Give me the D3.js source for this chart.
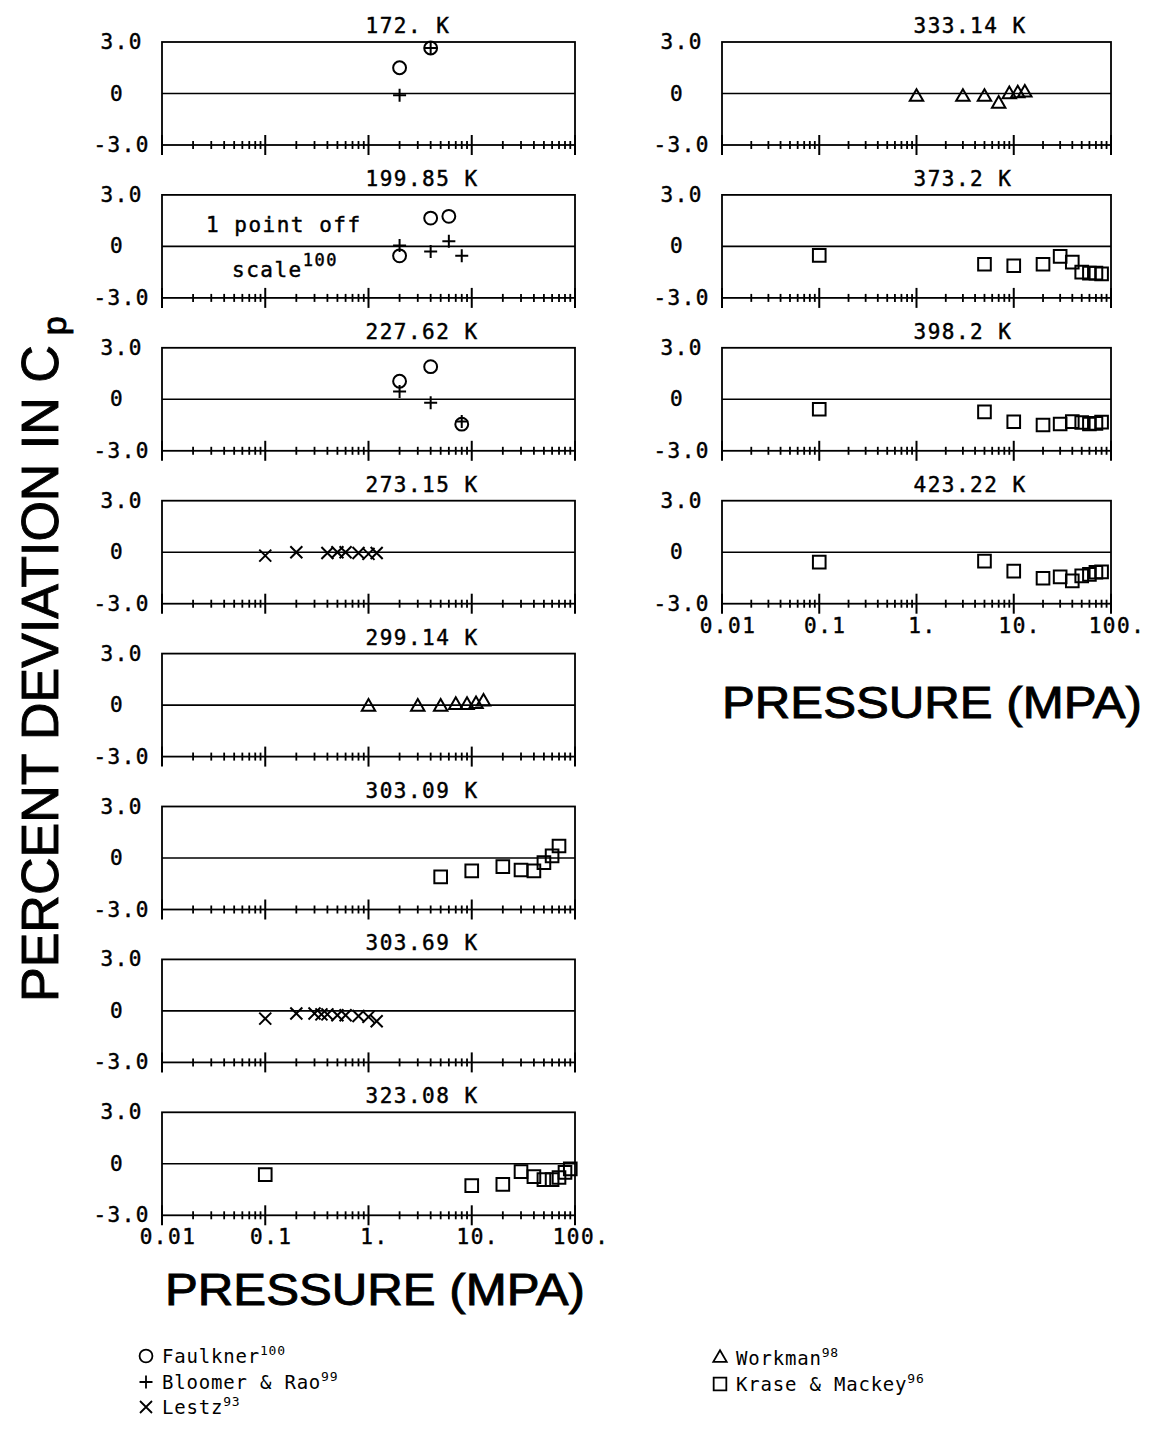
<!DOCTYPE html>
<html><head><meta charset="utf-8">
<script src="https://cdn.jsdelivr.net/npm/d3@7"></script>
<style>body{margin:0;background:#fff}</style>
</head><body><svg id="c" width="1171" height="1431"></svg>
<script>
// ---------- data ----------
const leftTemps = ["172. K","199.85 K","227.62 K","273.15 K","299.14 K","303.09 K","303.69 K","323.08 K"];
const rightTemps = ["333.14 K","373.2 K","398.2 K","423.22 K"];
const yTickValues = [3, 0, -3];
const yTickLabels = ["3.0", "0", "-3.0"];
const xTickValues = [0.01, 0.1, 1, 10, 100];
const xTickLabels = ["0.01", "0.1", "1.", "10.", "100."];

const faulkner = [
  {T:"172. K",p:2,d:1.5},{T:"172. K",p:4,d:2.65},
  {T:"199.85 K",p:2,d:-0.55},{T:"199.85 K",p:4,d:1.65},{T:"199.85 K",p:6,d:1.75},
  {T:"227.62 K",p:2,d:1.05},{T:"227.62 K",p:4,d:1.9},{T:"227.62 K",p:8,d:-1.45}
];
const bloomer = [
  {T:"172. K",p:2,d:-0.1},{T:"172. K",p:4,d:2.65},
  {T:"199.85 K",p:2,d:0.05},{T:"199.85 K",p:4,d:-0.3},{T:"199.85 K",p:6,d:0.3},{T:"199.85 K",p:8,d:-0.55},
  {T:"227.62 K",p:2,d:0.45},{T:"227.62 K",p:4,d:-0.2},{T:"227.62 K",p:8,d:-1.3}
];
const lestz = [
  {T:"273.15 K",p:0.1,d:-0.2},{T:"273.15 K",p:0.2,d:0.0},{T:"273.15 K",p:0.4,d:-0.05},{T:"273.15 K",p:0.5,d:0.0},
  {T:"273.15 K",p:0.6,d:0.0},{T:"273.15 K",p:0.8,d:-0.05},{T:"273.15 K",p:1.0,d:-0.1},{T:"273.15 K",p:1.2,d:-0.05},
  {T:"303.69 K",p:0.1,d:-0.45},{T:"303.69 K",p:0.2,d:-0.15},{T:"303.69 K",p:0.3,d:-0.15},{T:"303.69 K",p:0.35,d:-0.2},
  {T:"303.69 K",p:0.4,d:-0.2},{T:"303.69 K",p:0.5,d:-0.25},{T:"303.69 K",p:0.6,d:-0.25},{T:"303.69 K",p:0.8,d:-0.3},
  {T:"303.69 K",p:1.0,d:-0.35},{T:"303.69 K",p:1.2,d:-0.6}
];
const workman = [
  {T:"299.14 K",p:1,d:-0.1},{T:"299.14 K",p:3,d:-0.1},{T:"299.14 K",p:5,d:-0.1},{T:"299.14 K",p:7,d:0.0},
  {T:"299.14 K",p:9,d:0.0},{T:"299.14 K",p:11,d:0.05},{T:"299.14 K",p:13,d:0.2},
  {T:"333.14 K",p:1,d:-0.2},{T:"333.14 K",p:3,d:-0.2},{T:"333.14 K",p:5,d:-0.2},{T:"333.14 K",p:7,d:-0.6},
  {T:"333.14 K",p:9,d:-0.05},{T:"333.14 K",p:11,d:0.0},{T:"333.14 K",p:13,d:0.05}
];
const krase = [
  {T:"303.09 K",p:5,d:-1.1},{T:"303.09 K",p:10,d:-0.75},{T:"303.09 K",p:20,d:-0.5},{T:"303.09 K",p:30,d:-0.7},
  {T:"303.09 K",p:40,d:-0.75},{T:"303.09 K",p:50,d:-0.27},{T:"303.09 K",p:60,d:0.12},{T:"303.09 K",p:70,d:0.7},
  {T:"323.08 K",p:0.1,d:-0.63},{T:"323.08 K",p:10,d:-1.27},{T:"323.08 K",p:20,d:-1.2},{T:"323.08 K",p:30,d:-0.46},
  {T:"323.08 K",p:40,d:-0.75},{T:"323.08 K",p:50,d:-0.92},{T:"323.08 K",p:60,d:-0.92},{T:"323.08 K",p:70,d:-0.8},
  {T:"323.08 K",p:80,d:-0.5},{T:"323.08 K",p:90,d:-0.3},
  {T:"373.2 K",p:0.1,d:-0.52},{T:"373.2 K",p:5,d:-1.04},{T:"373.2 K",p:10,d:-1.13},{T:"373.2 K",p:20,d:-1.04},
  {T:"373.2 K",p:30,d:-0.58},{T:"373.2 K",p:40,d:-0.92},{T:"373.2 K",p:50,d:-1.5},{T:"373.2 K",p:60,d:-1.56},
  {T:"373.2 K",p:70,d:-1.56},{T:"373.2 K",p:80,d:-1.6},
  {T:"398.2 K",p:0.1,d:-0.58},{T:"398.2 K",p:5,d:-0.73},{T:"398.2 K",p:10,d:-1.31},{T:"398.2 K",p:20,d:-1.5},
  {T:"398.2 K",p:30,d:-1.44},{T:"398.2 K",p:40,d:-1.3},{T:"398.2 K",p:50,d:-1.35},{T:"398.2 K",p:60,d:-1.44},
  {T:"398.2 K",p:70,d:-1.4},{T:"398.2 K",p:80,d:-1.33},
  {T:"423.22 K",p:0.1,d:-0.58},{T:"423.22 K",p:5,d:-0.52},{T:"423.22 K",p:10,d:-1.1},{T:"423.22 K",p:20,d:-1.52},
  {T:"423.22 K",p:30,d:-1.44},{T:"423.22 K",p:40,d:-1.67},{T:"423.22 K",p:50,d:-1.38},{T:"423.22 K",p:60,d:-1.29},
  {T:"423.22 K",p:70,d:-1.17},{T:"423.22 K",p:80,d:-1.15}
];

const seriesNames = ["Faulkner","Bloomer & Rao","Lestz","Workman","Krase & Mackey"];
const seriesRefs = ["100","99","93","98","96"];
const seriesShapes = ["circle","plus","x","triangle","square"];
const seriesData = [faulkner, bloomer, lestz, workman, krase];

// ---------- drawing ----------
const svg = d3.select("#c");
const FONT = "'DejaVu Sans Mono', monospace";
const PH = 103, TOP0 = 42, PITCH = 152.9;

const xLeft = d3.scaleLog().domain([0.01, 100]).range([162, 575]);
const xRight = d3.scaleLog().domain([0.01, 100]).range([722, 1111]);

function monoText(sel, size) {
  return sel.attr("font-family", FONT).attr("font-size", size).attr("letter-spacing", 1.5)
    .attr("stroke", "#000").attr("stroke-width", 0.45);
}

function symPath(shape) {
  if (shape === "circle") return d3.symbol(d3.symbolCircle, 130)();
  if (shape === "square") return d3.symbol(d3.symbolSquare, 160)();
  if (shape === "triangle") return d3.symbol(d3.symbolTriangle, 78)();
  if (shape === "plus") return "M-6.5,0H6.5M0,-6.5V6.5";
  return "M-6,-6L6,6M-6,6L6,-6";
}

const panels = {};
function drawPanel(xs, top, title, showX) {
  const y = d3.scaleLinear().domain([3, -3]).range([top, top + PH]);
  const g = svg.append("g");
  const [x0, x1] = xs.range();
  const bottom = y(-3);
  g.append("rect").attr("x", x0).attr("y", top).attr("width", x1 - x0).attr("height", PH)
    .attr("fill", "none").attr("stroke", "#000").attr("stroke-width", 1.8);
  g.append("line").attr("x1", x0).attr("x2", x1).attr("y1", y(0)).attr("y2", y(0))
    .attr("stroke", "#000").attr("stroke-width", 1.6);
  // log ticks
  xs.ticks().forEach(v => {
    const lg = Math.log10(v);
    const major = Math.abs(lg - Math.round(lg)) < 1e-9;
    const len = major ? 10 : 4;
    g.append("line").attr("x1", xs(v)).attr("x2", xs(v))
      .attr("y1", bottom - len).attr("y2", bottom + len)
      .attr("stroke", "#000").attr("stroke-width", major ? 2 : 1.8);
  });
  // y tick labels
  yTickValues.forEach((v, i) => {
    const t = monoText(g.append("text").attr("y", y(v) + 7).text(yTickLabels[i]), 21);
    if (v === 0) t.attr("x", x0 - 45).attr("text-anchor", "middle");
    else if (v > 0) t.attr("x", x0 - 19).attr("text-anchor", "end");
    else t.attr("x", x0 - 12).attr("text-anchor", "end");
  });
  // title
  monoText(g.append("text").attr("x", xs(1) - 3).attr("y", top - 9).text(title), 21);
  if (showX) {
    xTickValues.forEach((v, i) => {
      monoText(g.append("text").attr("x", xs(v) + 6).attr("y", bottom + 29).attr("text-anchor", "middle")
        .text(xTickLabels[i]), 21);
    });
  }
  panels[title] = {xs, y, g, top};
}

leftTemps.forEach((t, i) => drawPanel(xLeft, TOP0 + PITCH * i, t, i === leftTemps.length - 1));
rightTemps.forEach((t, i) => drawPanel(xRight, TOP0 + PITCH * i, t, i === rightTemps.length - 1));

// data marks
seriesData.forEach((arr, si) => {
  arr.forEach(pt => {
    const P = panels[pt.T];
    P.g.append("path").attr("d", symPath(seriesShapes[si]))
      .attr("transform", `translate(${P.xs(pt.p)},${P.y(pt.d)})`)
      .attr("fill", "none").attr("stroke", "#000").attr("stroke-width", 2);
  });
});

// annotation in 199.85 K panel
{
  const P = panels["199.85 K"];
  monoText(P.g.append("text").attr("x", 206).attr("y", P.top + 37).text("1 point off"), 21);
  const t = monoText(P.g.append("text").attr("x", 232).attr("y", P.top + 82), 21);
  t.append("tspan").text("scale");
  t.append("tspan").attr("dy", -11).attr("font-size", 17).text("100");
}

// axis titles
const SANS = "'Liberation Sans', Arial, sans-serif";
[[375, 1305], [932, 718]].forEach(([cx, cy]) => {
  svg.append("text").attr("x", cx).attr("y", cy).attr("text-anchor", "middle")
    .attr("font-family", SANS).attr("font-size", 44).attr("textLength", 420).attr("lengthAdjust", "spacingAndGlyphs")
    .attr("stroke", "#000").attr("stroke-width", 0.9)
    .text("PRESSURE (MPA)");
});
{
  const t = svg.append("text").attr("transform", "translate(58,1002) rotate(-90)")
    .attr("font-family", SANS).attr("font-size", 52).attr("stroke", "#000").attr("stroke-width", 0.9);
  t.append("tspan").text("PERCENT DEVIATION IN C");
  t.append("tspan").attr("dx", 10).attr("dy", 8).attr("font-size", 34).text("p");
}

// legend
const legendPos = [[146, 1356], [146, 1382], [146, 1407], [720, 1358], [720, 1384]];
seriesNames.forEach((name, i) => {
  const [lx, ly] = legendPos[i];
  svg.append("path").attr("d", symPath(seriesShapes[i]))
    .attr("transform", `translate(${lx},${ly})`)
    .attr("fill", "none").attr("stroke", "#000").attr("stroke-width", 1.8);
  const t = svg.append("text").attr("x", lx + 16).attr("y", ly + 7)
    .attr("font-family", FONT).attr("font-size", 19).attr("letter-spacing", 0.8);
  t.append("tspan").text(name);
  t.append("tspan").attr("dy", -8).attr("font-size", 13).text(seriesRefs[i]);
});
</script>
</body></html>
